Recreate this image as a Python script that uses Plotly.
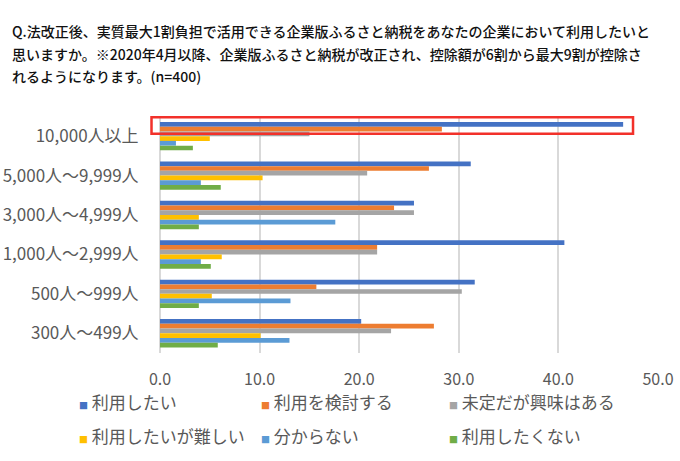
import plotly.graph_objects as go

# ---- data ----
categories = ["10,000人以上", "5,000人～9,999人", "3,000人～4,999人",
              "1,000人～2,999人", "500人～999人", "300人～499人"]
series_names = ["利用したい", "利用を検討する", "未定だが興味はある",
                "利用したいが難しい", "分からない", "利用したくない"]
v_use = [46.5, 31.2, 25.5, 40.6, 31.6, 20.2]
v_consider = [28.3, 27.0, 23.5, 21.8, 15.7, 27.5]
v_undecided = [15.0, 20.8, 25.5, 21.8, 30.3, 23.2]
v_difficult = [5.0, 10.3, 3.9, 6.2, 5.2, 10.1]
v_unknown = [1.6, 4.1, 17.6, 4.1, 13.1, 13.0]
v_no = [3.3, 6.1, 3.9, 5.1, 3.9, 5.8]
x_ticks = [0, 10, 20, 30, 40, 50]
title_lines = [
    "Q.法改正後、実質最大1割負担で活用できる企業版ふるさと納税をあなたの企業において利用したいと",
    "思いますか。※2020年4月以降、企業版ふるさと納税が改正され、控除額が6割から最大9割が控除さ",
    "れるようになります。(n=400)",
]

series_values = [v_use, v_consider, v_undecided, v_difficult, v_unknown, v_no]
colors = ["#4472C4", "#ED7D31", "#A5A5A5", "#FFC000", "#5B9BD5", "#70AD47"]

W, H = 680, 461
ML, MR, MT, MB = 159.5, 22, 116, 108
PW, PH = W - ML - MR, H - MT - MB


def px_x(px):
    return (px - ML) / PW


def px_y(py):
    return (H - MB - py) / PH


FONT = "Noto Sans CJK JP"
GRAY = "#595959"

fig = go.Figure()
for name, vals, col in zip(series_names, series_values, colors):
    fig.add_trace(go.Bar(
        y=categories, x=vals, name=name, orientation="h",
        marker=dict(color=col, line=dict(width=0)),
        showlegend=False,
        hovertemplate="%{y}: %{x:.1f}<extra>" + name + "</extra>",
    ))

annotations = []
# title lines
for txt, py in zip(title_lines, [31, 53.5, 76.5]):
    annotations.append(dict(
        text=txt, xref="paper", yref="paper", x=px_x(9), y=px_y(py),
        xanchor="left", yanchor="middle", showarrow=False,
        font=dict(family=FONT, size=14, color="#111111", weight=500),
    ))

# legend (3 columns x 2 rows)
leg_x = [76, 259, 447]
leg_y = [401, 435]
for i, (name, col) in enumerate(zip(series_names, colors)):
    r, c = divmod(i, 3)
    annotations.append(dict(
        text=f"<span style='color:{col};font-size:9px'>■</span> {name}",
        xref="paper", yref="paper", x=px_x(leg_x[c]), y=px_y(leg_y[r]),
        xanchor="left", yanchor="middle", showarrow=False,
        font=dict(family=FONT, size=17, color=GRAY),
    ))

fig.update_layout(
    width=W, height=H,
    margin=dict(l=ML, r=MR, t=MT, b=MB, pad=0, autoexpand=False),
    paper_bgcolor="white", plot_bgcolor="white",
    barmode="group", bargap=0.28, bargroupgap=0,
    font=dict(family=FONT, color=GRAY),
    xaxis=dict(
        range=[0, 50], tickvals=x_ticks, tickformat=".1f",
        showgrid=True, gridcolor="#d9d9d9", gridwidth=1.5,
        zeroline=True, zerolinecolor="#d9d9d9", zerolinewidth=1.5,
        showline=False, automargin=False,
        ticks="outside", ticklen=12, tickcolor="rgba(0,0,0,0)",
        tickfont=dict(family=FONT, size=16, color=GRAY),
        fixedrange=True,
    ),
    yaxis=dict(
        type="category", autorange="reversed",
        showgrid=False, showline=False, zeroline=False, automargin=False,
        ticks="outside", ticklen=17, tickcolor="rgba(0,0,0,0)",
        tickfont=dict(family=FONT, size=17, color=GRAY),
        fixedrange=True,
    ),
    shapes=[dict(
        type="rect", xref="paper", yref="y",
        x0=px_x(151), x1=px_x(633), y0=-0.48, y1=-0.06,
        line=dict(color="#F2312A", width=2.5), fillcolor="rgba(0,0,0,0)",
    )],
    annotations=annotations,
)

fig.write_html("out.html", config={"displayModeBar": False},
               post_script="document.body.style.margin='0px';")
